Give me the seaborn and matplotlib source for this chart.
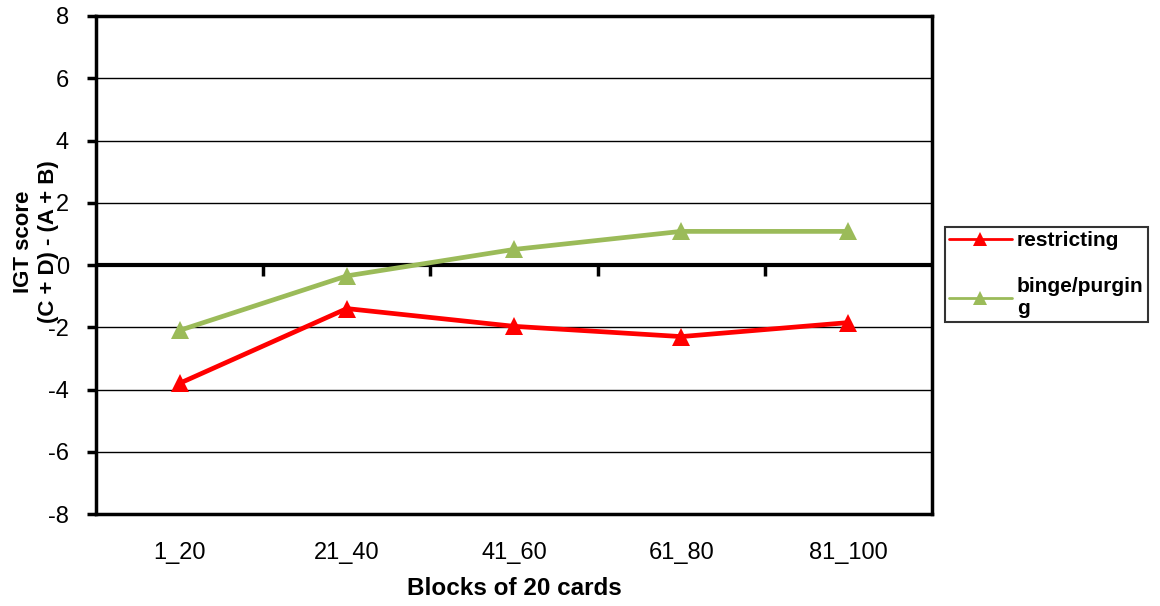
import pandas as pd
import seaborn as sns
import matplotlib.pyplot as plt

# data
blocks = ["1_20", "21_40", "41_60", "61_80", "81_100"]
restricting = [-3.8, -1.4, -1.97, -2.3, -1.85]
binge_purging = [-2.1, -0.35, 0.5, 1.08, 1.08]
group_names = ["restricting", "binge/purgin\ng"]

df = pd.DataFrame({
    "block": blocks * 2,
    "score": restricting + binge_purging,
    "group": [group_names[0]] * 5 + [group_names[1]] * 5,
})

sns.set_style("white")
plt.rcParams["font.family"] = ["Liberation Sans", "DejaVu Sans"]
plt.rcParams["axes.unicode_minus"] = False
for key in ["text.color", "axes.labelcolor", "xtick.color", "ytick.color"]:
    plt.rcParams[key] = "black"

fig = plt.figure(figsize=(11.6, 6.06), dpi=100)
ax = fig.add_axes([0.0828, 0.1518, 0.7206, 0.8218])

sns.lineplot(data=df, x="block", y="score", hue="group", style="group",
             palette=["#FF0000", "#9BBB59"], markers=["^", "^"], dashes=False,
             linewidth=3.4, markersize=13, markeredgewidth=0, ax=ax)

ax.set_xlim(-0.5, 4.5)
ax.set_ylim(-8, 8)
ax.set_yticks(range(-8, 9, 2))
ax.grid(axis="y", color="black", linewidth=1)
ax.grid(axis="x", visible=False)
ax.axhline(0, color="black", linewidth=3, zorder=1.5)
for s in ax.spines.values():
    s.set_visible(True)
    s.set_color("black")
    s.set_linewidth(2.5)

ax.tick_params(axis="y", direction="out", left=True, length=6.5, width=2.5,
               labelsize=17, pad=13)
ax.tick_params(axis="x", bottom=False, labelsize=17, pad=17)

# category-boundary ticks hanging below the zero line (Excel style)
sec = ax.secondary_xaxis(0.5)
sec.set_xticks([0.5, 1.5, 2.5, 3.5])
sec.set_xticklabels([])
sec.tick_params(direction="in", length=8, width=2.5)
sec.spines["bottom"].set_linewidth(3)

ax.set_xlabel("Blocks of 20 cards", fontsize=17.5, fontweight="bold",
              labelpad=9)
ax.set_ylabel("IGT score\n(C + D) - (A + B)", fontsize=16, fontweight="bold",
              linespacing=1.25)
ax.yaxis.set_label_coords(-0.044, 0.546)

handles, labels = ax.get_legend_handles_labels()
leg = ax.legend(handles, labels, loc="upper left",
                bbox_to_anchor=(945 / 1160, 1 - 227 / 606),
                bbox_transform=fig.transFigure, borderaxespad=0,
                prop={"size": 15, "weight": "bold"}, frameon=True,
                fancybox=False, edgecolor="black", handlelength=3,
                labelspacing=1.3, borderpad=0.2, handletextpad=0.25)
leg.get_frame().set_linewidth(1.5)
for line in leg.get_lines():
    line.set_linewidth(2)
    line.set_markersize(10)

fig.savefig("out.png", dpi=100)
